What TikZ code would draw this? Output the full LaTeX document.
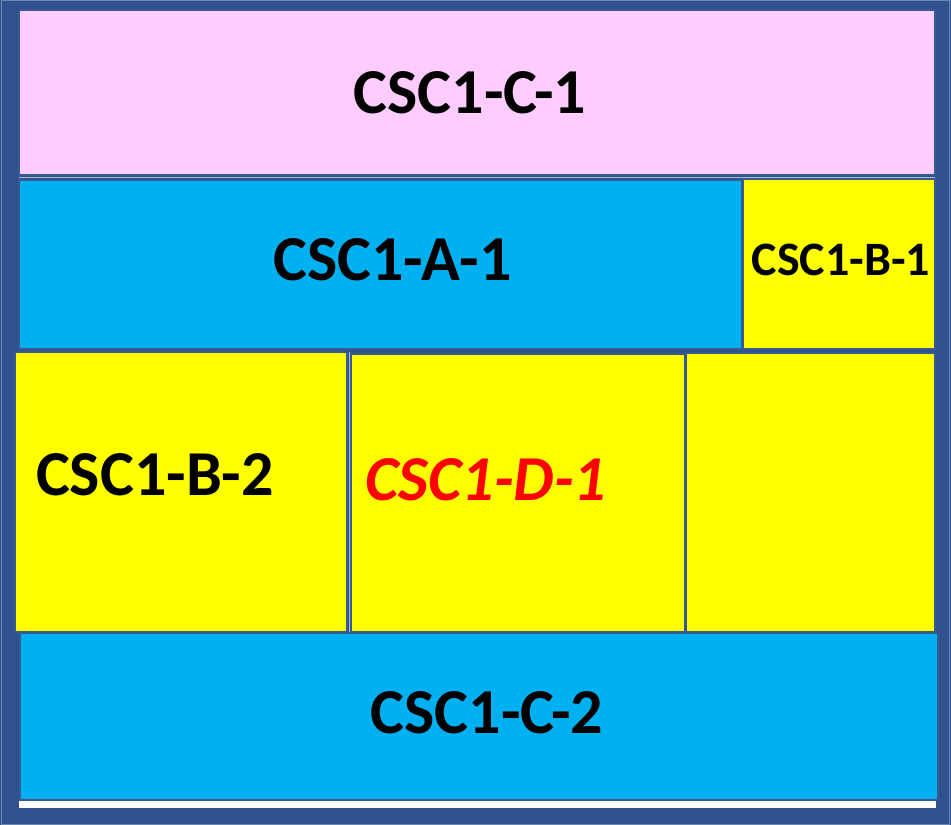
\documentclass[tikz,border=0pt]{standalone}
\usepackage{fontspec}
\setmainfont{Carlito}
\definecolor{frameblue}{HTML}{2F528F}
\definecolor{edgeblue}{HTML}{385A92}
\definecolor{cellblue}{HTML}{00B0F0}
\definecolor{cellyellow}{HTML}{FFFF00}
\definecolor{cellpink}{HTML}{FFCCFF}
\definecolor{labelred}{HTML}{FF0000}
\begin{document}
\begin{tikzpicture}[x=1pt,y=-1pt,
  cell/.style={draw=edgeblue,line width=1.6pt},
  biglabel/.style={font=\fontsize{64}{64}\selectfont\bfseries,inner sep=0pt,anchor=base},
  smalllabel/.style={font=\fontsize{48}{48}\selectfont\bfseries,inner sep=0pt,anchor=base}]
  \useasboundingbox (0,0) rectangle (951,825);
  % outer frame and white panel
  \fill[frameblue] (0,0) rectangle (951,825);
  \draw[frameblue!70!white,line width=1pt] (1.5,0.5) rectangle (949.5,824.5);
  \fill[white] (19,10) rectangle (936,808);
  % dark seams between the cells
  \fill[frameblue] (19,174) rectangle (936,634);
  \draw[frameblue!40!white,line width=0.8pt] (19,177.5) -- (935,177.5);
  \draw[frameblue!40!white,line width=0.8pt] (349,352) -- (349,632);
  % top band
  \draw[cell,fill=cellpink] (19,10) rectangle (935,175);
  % second row
  \draw[cell,fill=cellblue] (19,180) rectangle (742,349);
  \draw[cell,fill=cellyellow] (743,179) rectangle (935,349);
  % third row
  \draw[cell,fill=cellyellow] (15,352) rectangle (347,632);
  \draw[cell,fill=cellyellow] (351,354) rectangle (685,632);
  \draw[cell,fill=cellyellow] (686,353) rectangle (935,632);
  % bottom band
  \draw[cell,fill=cellblue] (20,633) rectangle (938,800);
  % labels
  \node[biglabel] (c1) at (470,113) {CSC1-C-1};
  \node[biglabel] (a1) at (392.5,280) {CSC1-A-1};
  \node[smalllabel] (b1) at (841,275) {CSC1-B-1};
  \node[biglabel] (b2) at (155,495) {CSC1-B-2};
  \node[biglabel,text=labelred,font=\fontsize{64}{64}\selectfont\bfseries\itshape] (d1) at (486,500) {CSC1-D-1};
  \node[biglabel] (c2) at (487,733) {CSC1-C-2};
\end{tikzpicture}
\end{document}
